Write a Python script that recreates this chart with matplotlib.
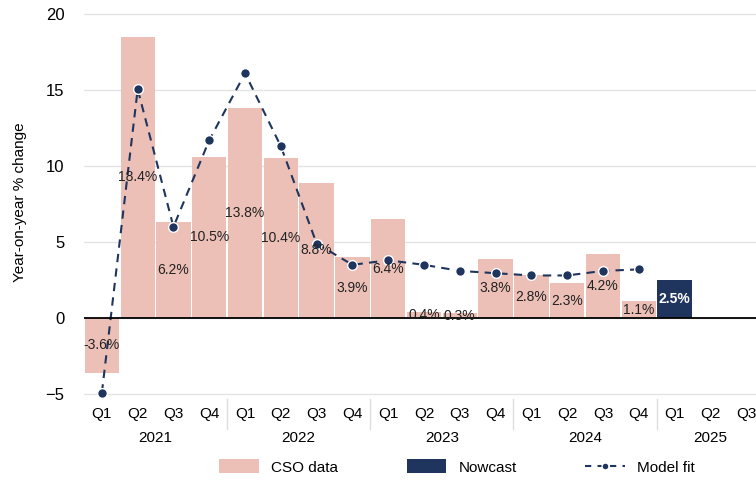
import matplotlib.pyplot as plt
import matplotlib.transforms as mtransforms
from matplotlib.patches import Patch
from matplotlib.lines import Line2D

plt.rcParams['font.family'] = ['Liberation Sans', 'DejaVu Sans']

# quarters shown on the x axis (2021 Q1 .. 2025 Q3)
quarters = ['Q1', 'Q2', 'Q3', 'Q4'] * 4 + ['Q1', 'Q2', 'Q3']
years = ['2021', '2022', '2023', '2024', '2025']

# CSO data bars (2021 Q1 .. 2024 Q4)
cso_values = [-3.6, 18.5, 6.3, 10.6, 13.8, 10.5, 8.9, 4.0,
              6.5, 0.4, 0.3, 3.9, 2.8, 2.3, 4.2, 1.1]
cso_labels = ['-3.6%', '18.4%', '6.2%', '10.5%', '13.8%', '10.4%', '8.8%', '3.9%',
              '6.4%', '0.4%', '0.3%', '3.8%', '2.8%', '2.3%', '4.2%', '1.1%']

# nowcast (2025 Q1)
nowcast_value = 2.5
nowcast_label = '2.5%'

# model fit (2021 Q1 .. 2024 Q4)
model_fit = [-4.9, 15.05, 6.0, 11.7, 16.1, 11.3, 4.9, 3.5,
             3.8, 3.5, 3.1, 2.95, 2.8, 2.8, 3.1, 3.2]

pink = '#ecc0b7'
navy = '#1f355e'

fig = plt.figure(figsize=(7.56, 4.82), dpi=100)
ax = fig.add_axes([84 / 756, 1 - 398.6 / 482, (764 - 84) / 756, (398.6 - 6.4) / 482])

x_cso = list(range(len(cso_values)))
ax.bar(x_cso, cso_values, width=0.96, color=pink, zorder=2)
ax.bar([16], [nowcast_value], width=0.96, color=navy, zorder=2)

# data labels at the middle of each bar
for xi, v, lab in zip(x_cso, cso_values, cso_labels):
    ax.text(xi, v / 2, lab, ha='center', va='center', fontsize=10, color='#222222', zorder=4)
ax.text(16, nowcast_value / 2, nowcast_label, ha='center', va='center', fontsize=10,
        color='white', fontweight='bold', zorder=4)

ax.plot(x_cso, model_fit, color=navy, linestyle=(0, (4, 3)), linewidth=1.5,
        marker='o', markersize=7, markeredgecolor='white', markeredgewidth=1, zorder=3)

ax.set_xlim(-0.5, 18.5)
ax.set_ylim(-5.3, 20.5)
ax.set_yticks([-5, 0, 5, 10, 15, 20])
ax.set_yticklabels(['\u22125', '0', '5', '10', '15', '20'])
ax.grid(True, axis='y', color='#e4e4e4', linewidth=1, zorder=0)
ax.axhline(0, color='black', linewidth=1.3, zorder=3)
ax.set_axisbelow(True)
for s in ax.spines.values():
    s.set_visible(False)
ax.tick_params(axis='y', length=0, labelsize=12, pad=14)
ax.tick_params(axis='x', length=0, labelsize=11, pad=6)
ax.set_xticks(range(len(quarters)))
ax.set_xticklabels(quarters)
ax.set_ylabel('Year-on-year % change', fontsize=11, labelpad=13)

# year labels and separators under the quarter ticks
trans = mtransforms.blended_transform_factory(ax.transData, ax.transAxes)
for i, yr in enumerate(years):
    first = i * 4
    last = min(first + 3, len(quarters) - 1)
    ax.text((first + last) / 2, -0.1, yr, transform=trans, ha='center', va='center', fontsize=11)
    if i > 0:
        ax.plot([first - 0.5, first - 0.5], [0, -0.077], transform=trans,
                color='#dddddd', linewidth=1, clip_on=False)

handles = [Patch(facecolor=pink, label='CSO data'),
           Patch(facecolor=navy, label='Nowcast'),
           Line2D([0], [0], color=navy, linestyle=(0, (3, 3)), linewidth=1.5, marker='o',
                  markersize=5, markeredgecolor='white', label='Model fit')]
fig.legend(handles=handles, loc='center', bbox_to_anchor=(457 / 756, 1 - 467 / 482), ncol=3,
           frameon=False, fontsize=11, handlelength=2.6, handleheight=1.0,
           columnspacing=4.5, handletextpad=0.8)

fig.savefig('out.png', dpi=100)
